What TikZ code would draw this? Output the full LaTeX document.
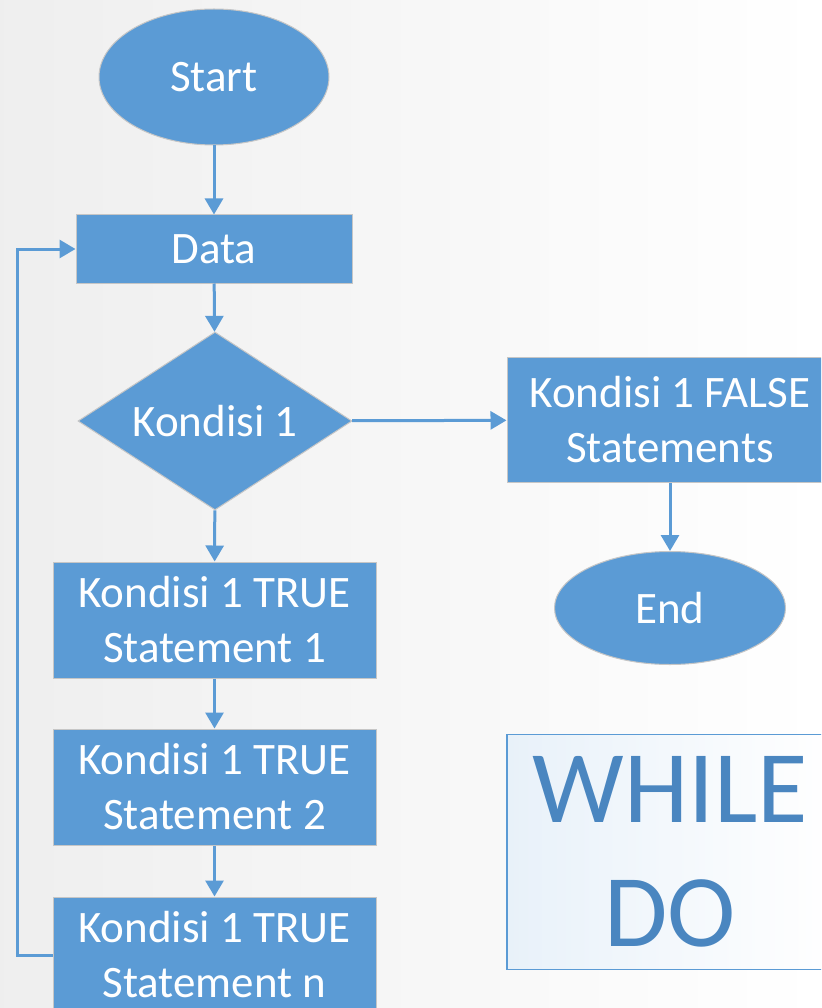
\documentclass[tikz,border=0pt]{standalone}
\usepackage{fontspec}
\setmainfont{Carlito}
\usetikzlibrary{shapes.geometric,arrows.meta,positioning}
\definecolor{flowblue}{HTML}{5B9BD5}
\definecolor{titleblue}{HTML}{4A86C0}

\begin{document}
\begin{tikzpicture}[x=1pt,y=-1pt,
  every node/.style={text=white, font=\fontsize{45}{55}\selectfont},
  terminal/.style={ellipse, draw=gray!45, fill=flowblue, line width=1pt, inner sep=0pt},
  process/.style={rectangle, draw=gray!45, fill=flowblue, line width=1pt, align=center, inner sep=0pt},
  decision/.style={diamond, aspect=1.54, draw=gray!45, fill=flowblue, line width=1pt, inner sep=0pt},
  flow/.style={draw=flowblue, line width=3pt, -{Triangle[width=18pt,length=16pt]}}]
\useasboundingbox (0,0) rectangle (821,1008);
\clip (0,0) rectangle (821,1008);
\fill[left color=gray!13, right color=white] (0,0) rectangle (821,1008);

% Main flow
\node[terminal, minimum width=230, minimum height=136] (start) at (214,77) {Start};
\node[process, minimum width=276, minimum height=68] (data) at (214,249) {Data};
\node[decision, minimum width=274, minimum height=178] (cond) at (215,421) {Kondisi 1};
\node[process, minimum width=323, minimum height=116] (true1) at (214.5,620) {Kondisi 1 TRUE\\Statement 1};
\node[process, minimum width=323, minimum height=116] (true2) at (214.5,787) {Kondisi 1 TRUE\\Statement 2};
\node[process, minimum width=323, minimum height=116] (truen) at (214.5,955) {Kondisi 1 TRUE\\Statement n};

% False branch
\node[process, minimum width=326, minimum height=125] (false) at (670,420) {Kondisi 1 FALSE\\Statements};
\node[terminal, minimum width=231, minimum height=113] (end) at (670,608) {End};

% Title box
\node[rectangle, draw=flowblue, line width=1.2pt, left color=flowblue!14, right color=white,
  minimum width=326, minimum height=235, align=center, text=titleblue,
  font=\fontsize{103}{124}\selectfont] (title) at (670,852) {WHILE\\DO};

\draw[flow] (start) -- (data);
\draw[flow] (data) -- (cond);
\draw[flow] (cond) -- (true1);
\draw[flow] (true1) -- (true2);
\draw[flow] (true2) -- (truen);
\draw[flow] (cond) -- (false);
\draw[flow] (false) -- (end);
\draw[flow] (truen.west) -- ++(-35,0) |- (data.west);
\end{tikzpicture}
\end{document}
